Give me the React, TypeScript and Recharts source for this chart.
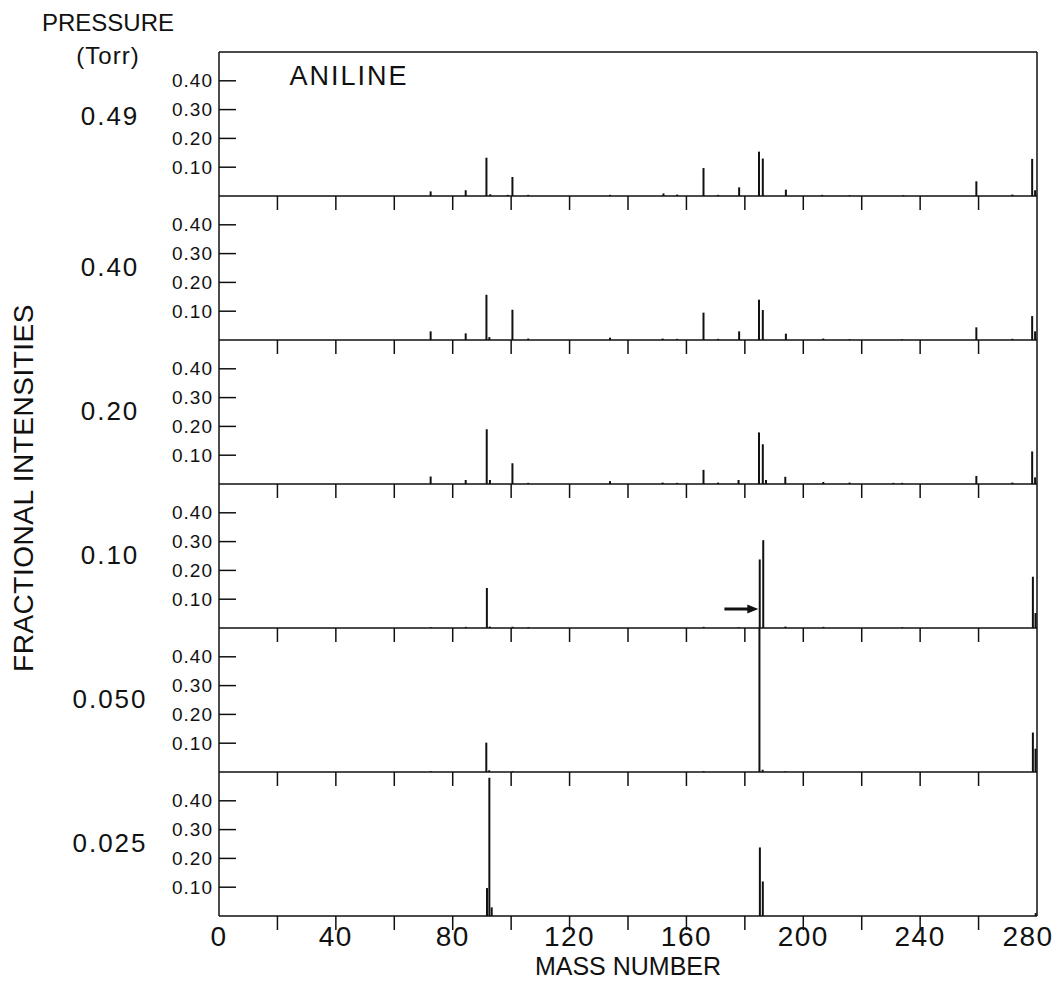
import React from 'react';
import { BarChart, Bar, XAxis, YAxis, ReferenceLine } from 'recharts';

const pressures = ['0.49', '0.40', '0.20', '0.10', '0.050', '0.025'];

// [mass number, fractional intensity]
const peaks049 = [
  [72.6, 0.016], [84.6, 0.02], [91.7, 0.133], [93, 0.006], [99, 0.004], [100.6, 0.066],
  [106, 0.004], [134, 0.004], [152.3, 0.009], [157, 0.005], [166, 0.097], [171, 0.004],
  [178.2, 0.03], [185, 0.154], [186.3, 0.13], [194.2, 0.022], [206.6, 0.004], [216, 0.003],
  [234.4, 0.003], [259.4, 0.051], [271.7, 0.005], [278.5, 0.129], [279.5, 0.02],
];
const peaks040 = [
  [72.6, 0.03], [84.6, 0.023], [91.7, 0.157], [92.7, 0.01], [100.6, 0.105], [106, 0.005],
  [134, 0.008], [152, 0.005], [157, 0.004], [166, 0.095], [171, 0.004], [178.2, 0.03],
  [185, 0.14], [186.3, 0.104], [194.2, 0.022], [207, 0.005], [216, 0.003], [234, 0.003],
  [259.4, 0.044], [271.7, 0.004], [278.5, 0.083], [279.5, 0.03],
];
const peaks020 = [
  [72.6, 0.026], [84.6, 0.014], [91.8, 0.19], [92.9, 0.014], [100.6, 0.072], [106, 0.004],
  [134, 0.01], [152, 0.005], [157, 0.004], [166, 0.049], [171, 0.005], [178, 0.014],
  [185, 0.179], [186.3, 0.138], [187.4, 0.014], [194, 0.025], [207, 0.007], [216, 0.005],
  [231, 0.004], [234, 0.004], [259.4, 0.028], [271.7, 0.005], [278.5, 0.113], [279.5, 0.023],
];
const peaks010 = [
  [72.6, 0.003], [84.6, 0.004], [91.8, 0.139], [92.8, 0.005], [100.6, 0.004], [106, 0.003],
  [166, 0.004], [178, 0.003], [185.2, 0.238], [186.4, 0.305], [194, 0.005], [207, 0.004],
  [234, 0.003], [278.7, 0.178], [279.6, 0.052],
];
const peaks0050 = [
  [72.6, 0.003], [91.6, 0.102], [92.6, 0.006], [100.6, 0.003], [166, 0.003],
  [185.1, 0.5], [186.2, 0.008], [194, 0.003], [278.7, 0.137], [279.6, 0.081],
];
const peaks0025 = [
  [91.8, 0.097], [92.6, 0.48], [93.4, 0.03], [185.2, 0.238], [186.2, 0.12], [279.6, 0.01],
];

const panels = [peaks049, peaks040, peaks020, peaks010, peaks0050, peaks0025];

const massTicks = [0, 20, 40, 60, 80, 100, 120, 140, 160, 180, 200, 220, 240, 260, 280];
const intensityTicks = [0.1, 0.2, 0.3, 0.4];

// arrow in the 0.10 Torr panel
const arrowFrom = 173;
const arrowTo = 184.6;
const arrowLevel = 0.066;

const INK = '#111';
const FONT = '"Liberation Sans", Arial, sans-serif';
const PLOT_TOP = 52;
const PANEL_H = 144;
const PAD = 4;

const MassTick = (props: any) => {
  const { x, y, payload, showLabel } = props;
  const v = payload.value;
  // last label is nudged so it stays inside the page
  const lx = v === 280 ? x - 9 : x;
  return (
    <g>
      {v > 0 && v < 280 && (
        <line x1={x} x2={x} y1={y} y2={y + 14} stroke={INK} strokeWidth={1.5} />
      )}
      {showLabel && v % 40 === 0 && (
        <text x={lx} y={y + 20} textAnchor="middle" dominantBaseline="central"
          fontSize={28} fontFamily={FONT} fill={INK} letterSpacing={1.5}>
          {v}
        </text>
      )}
    </g>
  );
};

const IntensityTick = (props: any) => {
  const { x, y, payload } = props;
  return (
    <g>
      <line x1={x} x2={x + 17} y1={y} y2={y} stroke={INK} strokeWidth={1.5} />
      <text x={x - 6} y={y} textAnchor="end" dominantBaseline="central"
        fontSize={19} fontFamily={FONT} fill={INK} letterSpacing={1}>
        {payload.value.toFixed(2)}
      </text>
    </g>
  );
};

const Arrow = (p: any) => {
  const { x1, y1, x2, y2 } = p;
  return (
    <g>
      <line x1={x1} y1={y1} x2={x2 - 8} y2={y2} stroke={INK} strokeWidth={3} />
      <polygon points={`${x2},${y2} ${x2 - 11},${y2 - 4.5} ${x2 - 11},${y2 + 4.5}`} fill={INK} />
    </g>
  );
};

const Txt = ({ x, y, size, children, spacing = 0, rotate = 0 }: any) => (
  <div
    style={{
      position: 'absolute', left: x, top: y, fontSize: size, lineHeight: 1,
      whiteSpace: 'nowrap', letterSpacing: spacing, color: INK, fontFamily: FONT,
      transform: `translate(-50%, -50%) rotate(${rotate}deg)`,
    }}
  >
    {children}
  </div>
);

const Panel = ({ index }: { index: number }) => {
  const last = index === panels.length - 1;
  const axisH = last ? 40 : 16;
  const data = panels[index].map(([m, v]) => ({ m, v }));
  return (
    <div style={{ position: 'absolute', left: 0, top: PLOT_TOP + index * PANEL_H - PAD }}>
      <BarChart
        width={1057}
        height={PANEL_H + PAD + axisH}
        data={data}
        margin={{ top: PAD, right: 20, bottom: 0, left: 0 }}
      >
        <XAxis
          dataKey="m"
          type="number"
          domain={[0, 280]}
          ticks={massTicks}
          interval={0}
          allowDataOverflow
          tickLine={false}
          tickSize={0}
          tickMargin={0}
          height={axisH}
          axisLine={{ stroke: INK, strokeWidth: 1.5 }}
          tick={(p: any) => <MassTick {...p} showLabel={last} />}
        />
        <YAxis
          type="number"
          domain={[0, 0.5]}
          ticks={intensityTicks}
          interval={0}
          allowDataOverflow
          width={219}
          tickLine={false}
          tickSize={0}
          tickMargin={0}
          axisLine={{ stroke: INK, strokeWidth: 1.5 }}
          tick={(p: any) => <IntensityTick {...p} />}
        />
        <Bar dataKey="v" fill={INK} barSize={2} isAnimationActive={false} />
        <ReferenceLine x={280} stroke={INK} strokeWidth={1.5} />
        {index === 0 && <ReferenceLine y={0.5} stroke={INK} strokeWidth={1.5} />}
        {index === 3 && (
          <ReferenceLine
            segment={[{ x: arrowFrom, y: arrowLevel }, { x: arrowTo, y: arrowLevel }]}
            shape={(p: any) => <Arrow {...p} />}
          />
        )}
      </BarChart>
    </div>
  );
};

export default function App() {
  return (
    <div
      style={{
        position: 'absolute', left: 0, top: 0, width: 1057, height: 991,
        background: '#fff', fontFamily: FONT, overflow: 'hidden',
      }}
    >
      {panels.map((_, i) => (
        <Panel key={i} index={i} />
      ))}
      <Txt x={108} y={23} size={24}>PRESSURE</Txt>
      <Txt x={108} y={56} size={24} spacing={1}>(Torr)</Txt>
      <Txt x={349} y={76} size={27} spacing={2}>ANILINE</Txt>
      {pressures.map((p, i) => (
        <Txt key={p} x={110} y={i === 0 ? 116 : PLOT_TOP + (i + 1) * PANEL_H - 73} size={26} spacing={2}>
          {p}
        </Txt>
      ))}
      <Txt x={24} y={488} size={28} spacing={0.5} rotate={-90}>FRACTIONAL INTENSITIES</Txt>
      <Txt x={628} y={966} size={25}>MASS NUMBER</Txt>
    </div>
  );
}
